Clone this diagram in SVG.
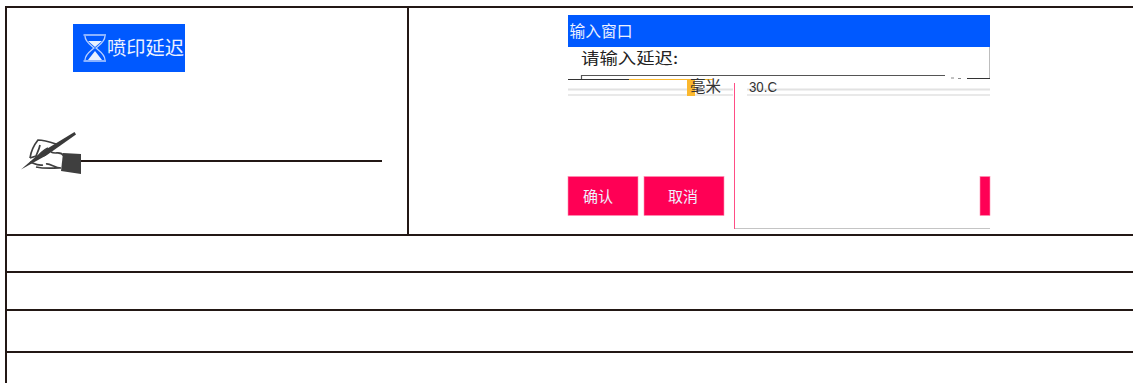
<svg xmlns="http://www.w3.org/2000/svg" width="1133" height="383" viewBox="0 0 1133 383">
<style>
.rule{stroke:#231815;stroke-width:2;fill:none}
.t{font-family:"Noto Sans CJK SC","Noto Sans",sans-serif}
.w{fill:#eef2ff}
.btn{fill:#ff0055;stroke:#ff8fb3;stroke-width:.6}
.g{stroke:#e2e2e2;fill:none}
</style>
<rect width="1133" height="383" fill="#fff"/>
<g id="table">
<path class="rule" d="M6 383V7H1133M408 7V235M6 235H1133M6 272H1133M6 310H1133M6 352H1133"/>
</g>
<g id="delay-button">
<rect x="73" y="24" width="112" height="48" fill="#0059ff"/>
<path d="M83.500 35H106M83.500 61H106M85 36C85 42 92 46 94 48C92 50 85 54 85 60M105 36C105 42 98 46 96 48C98 50 105 54 105 60" fill="none" stroke="#b9d0ff" stroke-width="1.300"/>
<path d="M88 41H102L95 47ZM95 51L88 60H102Z" fill="#e8f0ff"/>
<text class="t w" x="107" y="55" font-size="19" textLength="77" lengthAdjust="spacingAndGlyphs">喷印延迟</text>
</g>
<g id="note-hand">
<path d="M74.500 132L76 134.500L47 155L21 169.500L40 153Z" fill="#3a3a3a"/>
<path d="M30 158C31 151 34 145 38 140C43 140 50 142 56 144M40 145C39 150 37 153 36 156L30 158M48 148C44 150 40 153 39 157L46 155M51 152C56 155 60 150 64 156M30 162C35 164 38 166 43 165M36 167C45 169 52 168 60 168M46 164C50 163 55 168 61 168" fill="none" stroke="#3f3f3f" stroke-width="1.700"/>
<path d="M63 153L81 154L81 174L61 171Z" fill="#3f3f3f"/>
</g>
<g id="note-line">
<path class="rule" d="M81 161H382"/>
</g>
<g id="input-dialog">
<rect x="568" y="15" width="422" height="32" fill="#0059ff"/>
<text class="t w" x="569.500" y="37" font-size="15.500" textLength="63" lengthAdjust="spacingAndGlyphs">输入窗口</text>
<path d="M989.500 47V78" stroke="#bdbdbd" fill="none"/>
<text class="t" x="581" y="64" font-size="15.500" fill="#222" textLength="97" lengthAdjust="spacingAndGlyphs">请输入延迟:</text>
<path d="M581.500 79V75.500H945" fill="none" stroke="#555" stroke-width="1.200"/>
<path d="M568 79.500H629" stroke="#333" fill="none"/>
<path d="M629 79.500H713" stroke="#fbb82e" fill="none"/>
<path d="M967 78.500H990" stroke="#333" fill="none"/>
<path d="M951 78H954M958 78.500H961" stroke="#888" fill="none"/>
<path class="g" d="M568 89.500H733M747 89.500H990" stroke-width="2"/>
<path class="g" d="M568 95H733M747 95H990" stroke-width="1.500"/>
<rect x="687" y="80" width="8" height="16" fill="#fbb82e"/>
<text class="t" x="690" y="92" font-size="15.500" fill="#333" textLength="31" lengthAdjust="spacingAndGlyphs">毫米</text>
<text x="749" y="92" font-family="'Liberation Sans',sans-serif" font-size="15" fill="#333" textLength="28" lengthAdjust="spacingAndGlyphs">30.C</text>
<path d="M734.500 83V229" stroke="#ff4d85" fill="none"/>
<path d="M735 228.500H990" stroke="#c4c4c4" fill="none"/>
</g>
<g id="confirm-button">
<rect class="btn" x="568" y="176.500" width="70" height="39"/>
<text class="t w" x="598" y="202" font-size="15" text-anchor="middle">确认</text>
</g>
<g id="cancel-button">
<rect class="btn" x="644" y="176.500" width="80" height="39"/>
<text class="t w" x="683" y="202" font-size="15" text-anchor="middle">取消</text>
</g>
<g id="cut-button">
<rect class="btn" x="980" y="176.500" width="10" height="39"/>
</g>
</svg>
